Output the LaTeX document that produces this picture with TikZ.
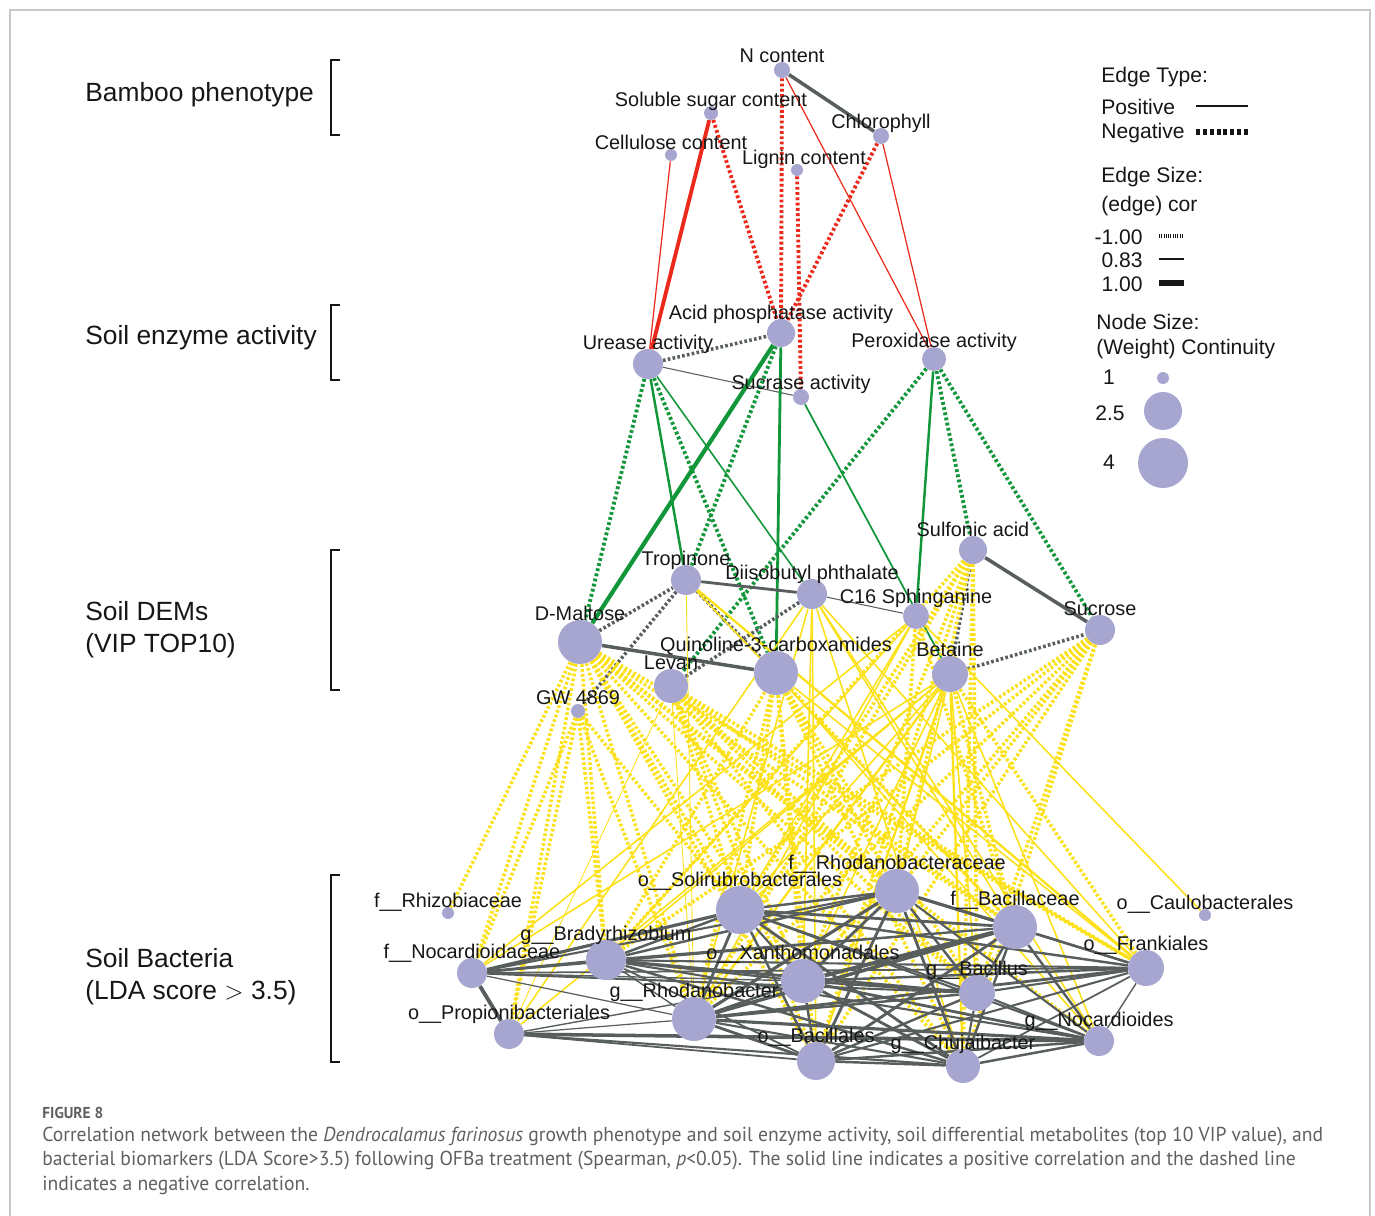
\documentclass[tikz,border=0pt]{standalone}
\usepackage{fontspec}
\setmainfont{Liberation Sans}
\newfontfamily\capfont[FakeStretch=0.97]{PT Sans}
\usetikzlibrary{positioning}
\pgfdeclarelayer{bg}
\pgfsetlayers{bg,main}
\definecolor{nodefill}{RGB}{166,166,208}
\definecolor{edgegray}{RGB}{88,94,94}
\definecolor{redE}{RGB}{236,42,28}
\definecolor{greenE}{RGB}{18,150,58}
\definecolor{yelE}{RGB}{252,224,24}
\definecolor{txt}{RGB}{22,22,22}
\definecolor{capgray}{RGB}{96,96,96}
\definecolor{framegray}{RGB}{200,200,200}
\tikzset{
    feat/.style={
           circle,
           fill=nodefill,
           inner sep=0pt,
           minimum size=#1*0.4mm,
           },
    lbl/.style={
           font=\fontsize{11.3}{13}\selectfont,
           inner sep=0pt,
           text depth=0pt,
           text=txt,
           },
    grp/.style={font=\fontsize{15}{18.2}\selectfont, align=left, anchor=west, inner sep=0pt, text=txt},
    leg/.style={font=\fontsize{12}{14}\selectfont, anchor=west, inner sep=0pt, text=txt},
    captxt/.style={font=\capfont\fontsize{11.5}{13}\selectfont, anchor=west, inner sep=0pt, text=capgray},
    gP/.style={draw=edgegray, line width=#1}, gP/.default=1.2pt,
    gN/.style={draw=edgegray, line width=2pt, dash pattern=on 1.5pt off 1.3pt},
    rP/.style={draw=redE, line width=#1}, rP/.default=0.7pt,
    rN/.style={draw=redE, line width=2.2pt, dash pattern=on 1.6pt off 1.4pt},
    grP/.style={draw=greenE, line width=#1}, grP/.default=1pt,
    grN/.style={draw=greenE, line width=2.2pt, dash pattern=on 1.6pt off 1.4pt},
    yP/.style={draw=yelE, line width=#1}, yP/.default=0.9pt,
    yN/.style={draw=yelE, line width=2pt, dash pattern=on 1.5pt off 1.3pt},
}

\begin{document}
\begin{tikzpicture}[x=0.02cm, y=-0.02cm, label distance=-0.6pt]
\useasboundingbox (0,0) rectangle (1375,1216);
\draw[framegray, line width=0.8pt] (10,1240) -- (10,10) -- (1370,10) -- (1370,1240);

% groups on the left
\node[grp] (bamboo) at (85,95) {Bamboo phenotype};
\node[grp] (enz) at (85,338) {Soil enzyme activity};
\node[grp] (dems) at (85,630) {Soil DEMs\\(VIP TOP10)};
\node[grp] (bact) at (85,977) {Soil Bacteria\\(LDA score $>$ 3.5)};
\draw[txt, line width=1.3pt] (340,60) -- (331,60) -- (331,135) -- (340,135);
\draw[txt, line width=1.3pt] (340,305) -- (331,305) -- (331,380) -- (340,380);
\draw[txt, line width=1.3pt] (340,550) -- (331,550) -- (331,690) -- (340,690);
\draw[txt, line width=1.3pt] (340,875) -- (331,875) -- (331,1062) -- (340,1062);

% bamboo phenotype
\node[feat=8, label={[lbl]above:N content}] (ncont) at (782,70) {};
\node[feat=7, label={[lbl]above:Soluble sugar content}] (sugar) at (711,113) {};
\node[feat=6, label={[lbl]above:Cellulose content}] (cell) at (671,155) {};
\node[feat=6, label={[lbl,xshift=1.4mm]above:Lignin content}] (lign) at (797,170) {};
\node[feat=8, label={[lbl]above:Chlorophyll}] (chlo) at (881,136) {};

% soil enzyme activity
\node[feat=15, label={[lbl]above:Urease activity}] (ure) at (648,364) {};
\node[feat=14, label={[lbl]above:Acid phosphatase activity}] (acp) at (781,333) {};
\node[feat=8, label={[lbl]above:Sucrase activity}] (sucr) at (801,397) {};
\node[feat=12, label={[lbl]above:Peroxidase activity}] (perox) at (934,359) {};

% soil DEMs
\node[feat=14, label={[lbl]above:Sulfonic acid}] (sulf) at (973,550) {};
\node[feat=15, label={[lbl]above:Tropinone}] (trop) at (686,580) {};
\node[feat=15, label={[lbl]above:Diisobutyl phthalate}] (diis) at (812,594) {};
\node[feat=13, label={[lbl]above:C16 Sphinganine}] (c16) at (916,616) {};
\node[feat=15, label={[lbl]above:Sucrose}] (sucro) at (1100,630) {};
\node[feat=22, label={[lbl]above:D-Maltose}] (malt) at (580,642) {};
\node[feat=22, label={[lbl]above:Quinoline-3-carboxamides}] (quin) at (776,673) {};
\node[feat=17, label={[lbl]above:Levan}] (levan) at (671,686) {};
\node[feat=18, label={[lbl]above:Betaine}] (beta) at (950,674) {};
\node[feat=7, label={[lbl]above:GW 4869}] (gw) at (578,711) {};

% soil bacteria
\node[feat=6, label={[lbl]above:f\_\_Rhizobiaceae}] (rhiz) at (448,913) {};
\node[feat=24, label={[lbl]above:o\_\_Solirubrobacterales}] (soli) at (740,910) {};
\node[feat=22, label={[lbl]above:f\_\_Rhodanobacteraceae}] (rhof) at (897,891) {};
\node[feat=22, label={[lbl]above:f\_\_Bacillaceae}] (bacf) at (1015,927) {};
\node[feat=6, label={[lbl]above:o\_\_Caulobacterales}] (caul) at (1205,915) {};
\node[feat=18, label={[lbl]above:o\_\_Frankiales}] (fran) at (1146,968) {};
\node[feat=15, label={[lbl]above:f\_\_Nocardioidaceae}] (nocf) at (472,973) {};
\node[feat=20, label={[lbl]above:g\_\_Bradyrhizobium}] (brad) at (606,960) {};
\node[feat=22, label={[lbl]above:o\_\_Xanthomonadales}] (xant) at (803,981) {};
\node[feat=18, label={[lbl]above:g\_\_Bacillus}] (baci) at (977,993) {};
\node[feat=22, label={[lbl]above:g\_\_Rhodanobacter}] (rhog) at (694,1019) {};
\node[feat=15, label={[lbl]above:o\_\_Propionibacteriales}] (prop) at (509,1034) {};
\node[feat=15, label={[lbl]above:g\_\_Nocardioides}] (nocg) at (1099,1041) {};
\node[feat=19, label={[lbl]above:o\_\_Bacillales}] (bacl) at (816,1061) {};
\node[feat=17, label={[lbl]above:g\_\_Chujaibacter}] (chuj) at (963,1066) {};

\begin{pgfonlayer}{bg}
 % phenotype to enzymes
\path
  (ncont) edge[gP=2pt] (chlo)
  (cell) edge[rP] (ure)
  (sugar) edge[rP=2.2pt] (ure)
          edge[rN] (acp)
  (ncont) edge[rN] (acp)
          edge[rP] (perox)
  (chlo) edge[rP] (perox)
         edge[rN] (acp)
  (lign) edge[rN] (sucr)
 ;
 % enzymes to DEMs
\path
  (ure) edge[gN] (acp)
        edge[gP=0.6pt] (sucr)
        edge[grN] (malt)
        edge[grP=1.4pt] (trop)
        edge[grN] (quin)
        edge[grP=0.9pt] (diis)
  (acp) edge[grP=2.4pt] (malt)
        edge[grN] (trop)
        edge[grP=1.6pt] (quin)
  (sucr) edge[grP] (beta)
  (perox) edge[grN] (levan)
          edge[grP=1.4pt] (c16)
          edge[grN] (sulf)
          edge[grN] (sucro)
 ;
 % inside the DEMs
\path
  (trop) edge[gP=1.6pt] (diis)
         edge[gN] (quin)
         edge[gN] (gw)
  (diis) edge[gP=0.6pt] (c16)
         edge[gN] (levan)
  (sulf) edge[gP=2pt] (sucro)
         edge[gN] (beta)
  (beta) edge[gN] (sucro)
  (malt) edge[gN] (trop)
         edge[gP=2pt] (quin)
 ;
 % DEMs to bacteria, negative
\path
  (malt) edge[yN] (rhiz) edge[yN] (nocf) edge[yN] (prop) edge[yN] (brad)
         edge[yN] (rhog) edge[yN] (soli) edge[yN] (xant) edge[yN] (bacl)
         edge[yN] (rhof) edge[yN] (bacf) edge[yN] (baci) edge[yN] (chuj)
         edge[yN] (fran) edge[yN] (nocg)
  (gw) edge[yN] (nocf) edge[yN] (prop) edge[yN] (brad) edge[yN] (rhog) edge[yN] (soli)
  (levan) edge[yN] (soli) edge[yN] (xant) edge[yN] (rhof) edge[yN] (bacf)
          edge[yN] (baci) edge[yN] (chuj) edge[yN] (bacl) edge[yN] (fran)
  (quin) edge[yN] (brad) edge[yN] (soli) edge[yN] (rhog) edge[yN] (xant)
         edge[yN] (bacl) edge[yN] (rhof) edge[yN] (baci) edge[yN] (chuj) edge[yN] (bacf)
  (sulf) edge[yN] (soli) edge[yN] (brad) edge[yN] (xant) edge[yN] (rhof)
         edge[yN] (baci) edge[yN] (chuj) edge[yN] (bacl) edge[yN] (rhog)
  (sucro) edge[yN] (brad) edge[yN] (soli) edge[yN] (rhog) edge[yN] (xant)
          edge[yN] (rhof) edge[yN] (bacl) edge[yN] (baci) edge[yN] (chuj)
  (beta) edge[yN] (bacf) edge[yN] (fran)
  (c16) edge[yN] (rhof) edge[yN] (bacf)
 ;
 % DEMs to bacteria, positive
\path
  (beta) edge[yP] (nocf) edge[yP] (brad) edge[yP] (prop) edge[yP=1.3pt] (rhog)
         edge[yP] (xant) edge[yP] (soli) edge[yP=1.3pt] (bacl) edge[yP] (baci)
         edge[yP=1.3pt] (chuj) edge[yP] (nocg) edge[yP] (rhof)
  (c16) edge[yP] (nocf) edge[yP] (brad) edge[yP] (rhog) edge[yP] (caul) edge[yP] (soli)
  (diis) edge[yP] (prop) edge[yP] (rhog) edge[yP] (xant) edge[yP] (bacl)
         edge[yP] (chuj) edge[yP] (fran) edge[yP] (nocg) edge[yP] (bacf)
  (trop) edge[yP=1.3pt] (fran) edge[yP] (bacf) edge[yP=0.5pt] (rhog)
  (levan) edge[yP=0.5pt] (rhog) edge[yP=0.5pt] (prop)
  (quin) edge[yP] (nocg) edge[yP] (fran)
 ;
 % inside the bacteria
\path
  (nocf) edge[gP=1.6pt] (brad) edge[gP=1.8pt] (soli) edge[gP=0.8pt] (xant)
         edge[gP=0.7pt] (rhog) edge[gP=2.2pt] (prop) edge[gP=1.2pt] (rhof)
         edge[gP=1.2pt] (baci) edge[gP=1pt] (fran) edge[gP=1pt] (bacf)
  (prop) edge[gP=0.7pt] (rhog) edge[gP=2pt] (nocg) edge[gP=1pt] (bacl)
         edge[gP=0.8pt] (xant) edge[gP=1.2pt] (chuj)
  (brad) edge[gP=1.4pt] (soli) edge[gP=1.2pt] (xant) edge[gP=0.8pt] (rhog)
         edge[gP=1.4pt] (rhof) edge[gP=1.2pt] (bacf) edge[gP=1.6pt] (baci)
         edge[gP=1.2pt] (fran) edge[gP=1.4pt] (chuj) edge[gP=1pt] (bacl)
         edge[gP=1.2pt] (nocg)
  (rhog) edge[gP=1.6pt] (soli) edge[gP=1.4pt] (xant) edge[gP=1.8pt] (rhof)
         edge[gP=2pt] (bacf) edge[gP=1.4pt] (baci) edge[gP=1.6pt] (fran)
         edge[gP=1.6pt] (bacl) edge[gP=1.2pt] (chuj) edge[gP=1.8pt] (nocg)
  (soli) edge[gP=1.2pt] (xant) edge[gP=1.4pt] (rhof) edge[gP=1.6pt] (bacf)
         edge[gP=1.2pt] (baci) edge[gP=1.4pt] (fran) edge[gP=1.4pt] (bacl)
         edge[gP=1.6pt] (chuj) edge[gP=1.2pt] (nocg)
  (xant) edge[gP=1.6pt] (rhof) edge[gP=2.2pt] (bacf) edge[gP=1.4pt] (baci)
         edge[gP=1.4pt] (fran) edge[gP=1.4pt] (bacl) edge[gP=1.6pt] (chuj)
         edge[gP=1.6pt] (nocg)
  (bacl) edge[gP=1.6pt] (rhof) edge[gP=1.6pt] (bacf) edge[gP=1.4pt] (baci)
         edge[gP=1.4pt] (chuj) edge[gP=1.2pt] (fran) edge[gP=1.4pt] (nocg)
  (rhof) edge[gP=1.8pt] (bacf) edge[gP=1.4pt] (baci) edge[gP=1.6pt] (chuj)
         edge[gP=1.4pt] (fran) edge[gP=1.2pt] (nocg)
  (bacf) edge[gP=1.4pt] (baci) edge[gP=1.4pt] (chuj) edge[gP=1.2pt] (fran)
         edge[gP=1.4pt] (nocg)
  (baci) edge[gP=1.2pt] (chuj) edge[gP=1.2pt] (fran) edge[gP=1.2pt] (nocg)
  (chuj) edge[gP=1.4pt] (nocg) edge[gP=1pt] (fran)
  (nocg) edge[gP=0.8pt] (fran)
 ;
\end{pgfonlayer}

% legend
\node[leg] (etype) at (1101,77) {Edge Type:};
\node[leg] (epos) at (1101,107) {Positive};
\node[leg] (eneg) at (1101,133) {Negative};
\draw[txt, line width=1.7pt] (1196,106) -- (1248,106);
\draw[txt, line width=3.6pt, dash pattern=on 2.3pt off 1.6pt] (1196,132) -- (1248,132);
\node[leg] (esize) at (1101,177) {Edge Size:};
\node[leg] (ecor) at (1101,206) {(edge) cor};
\node[leg, anchor=east] (emin) at (1143,237) {-1.00};
\node[leg, anchor=east] (emid) at (1143,260) {0.83};
\node[leg, anchor=east] (emax) at (1143,284) {1.00};
\draw[txt, line width=2.4pt, dash pattern=on 0.6pt off 0.7pt] (1159,236) -- (1184,236);
\draw[txt, line width=1.7pt] (1159,259) -- (1184,259);
\draw[txt, line width=3.4pt] (1159,283) -- (1184,283);
\node[leg] (nsize) at (1096,322) {Node Size:};
\node[leg] (nweight) at (1096,349) {(Weight) Continuity};
\node[leg, anchor=center] (nlo) at (1109,377) {1};
\node[leg, anchor=center] (nmid) at (1110,413) {2.5};
\node[leg, anchor=center] (nhi) at (1109,462) {4};
\node[feat=6] (legS) at (1163,378) {};
\node[feat=19] (legM) at (1163,411) {};
\node[feat=25] (legL) at (1163,463) {};

% caption
\node[captxt, font=\capfont\fontsize{9}{10}\selectfont\bfseries] (fig) at (42,1113) {FIGURE 8};
\node[captxt] (cap1) at (42,1137) {Correlation network between the \textit{Dendrocalamus farinosus} growth phenotype and soil enzyme activity, soil differential metabolites (top 10 VIP value), and};
\node[captxt] (cap2) at (42,1161) {bacterial biomarkers (LDA Score>3.5) following OFBa treatment (Spearman, \textit{p}<0.05). The solid line indicates a positive correlation and the dashed line};
\node[captxt] (cap3) at (42,1185) {indicates a negative correlation.};
\end{tikzpicture}
\end{document}
